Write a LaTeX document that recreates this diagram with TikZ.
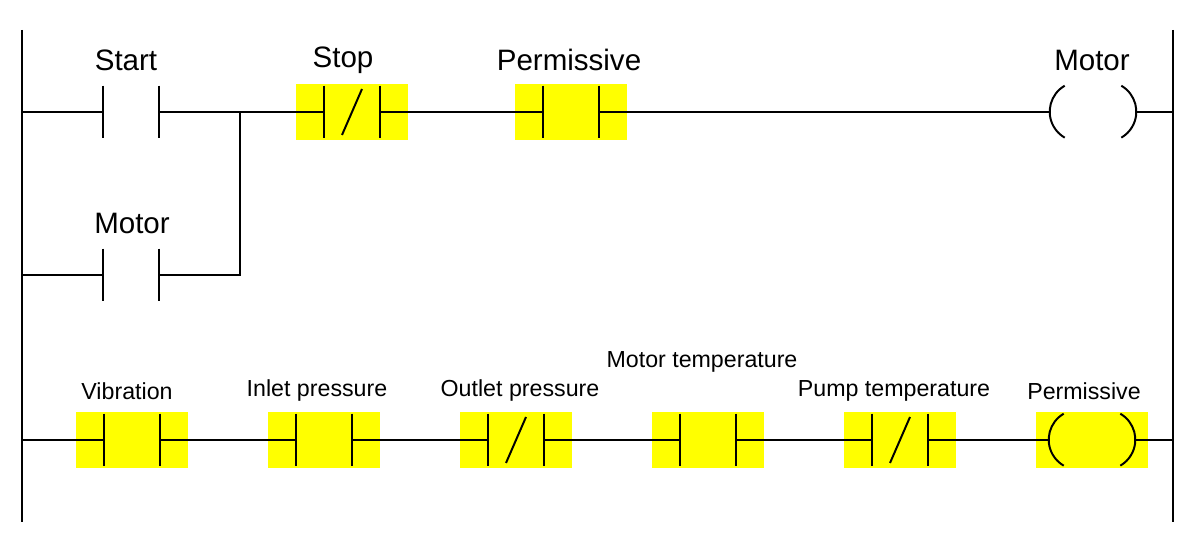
\documentclass[tikz,border=0pt]{standalone}
\usepackage{fontspec}
\setmainfont{Liberation Sans}
\usetikzlibrary{calc}
\definecolor{hlcolor}{RGB}{255,255,0}

% contact: name, position, nc/no, highlight (yes/no)
\newcommand{\ldcontact}[4]{%
  \node[contactbox] (#1) at (#2) {};
  \ifx#4y\fill[hlcolor] ($(#1.center)+(-56,-28)$) rectangle ($(#1.center)+(56,28)$);\fi
  \draw[wire] (#1.north west) -- (#1.south west);
  \draw[wire] (#1.north east) -- (#1.south east);
  \ifx#3c\draw[wire] ($(#1.center)+(-10,23)$) -- ($(#1.center)+(10,-23)$);\fi
}
% coil: name, position, highlight
\newcommand{\ldcoil}[3]{%
  \node[contactbox, minimum width=2cm] (#1) at (#2) {};
  \ifx#3y\fill[hlcolor] ($(#1.center)+(-56,-28)$) rectangle ($(#1.center)+(56,28)$);\fi
  \draw[wire] ($(#1.north west)+(12,0)$) arc[start angle=240, end angle=120, radius=30];
  \draw[wire] ($(#1.north east)+(-12,0)$) arc[start angle=-60, end angle=60, radius=30];
}

\begin{document}
\begin{tikzpicture}[x=0.025cm, y=-0.025cm,
  contactbox/.style={rectangle, inner sep=0pt, minimum width=1.4cm, minimum height=1.3cm},
  wire/.style={line width=1.4pt, black},
  biglabel/.style={font=\fontsize{21}{25}\selectfont},
  smalllabel/.style={font=\fontsize{16.5}{20}\selectfont}
]
\useasboundingbox (0,0) rectangle (1197,543);

% ===== Rails =====
\coordinate (lt) at (22,30);
\coordinate (lb) at (22,522);
\coordinate (rt) at (1173,30);
\coordinate (rb) at (1173,522);
\draw[wire] (lt) -- (lb);
\draw[wire] (rt) -- (rb);

% ===== Rung 1 =====
\ldcontact{start}{131,112}{o}{n}
\ldcontact{stop}{352,112}{c}{y}
\ldcontact{perm}{571,112}{o}{y}
\ldcoil{motor}{1093,112}{n}
\ldcontact{seal}{131,275}{o}{n}

\node[biglabel] (startlbl) at (126,60) {Start};
\node[biglabel] (stoplbl) at (343,60) {Stop};
\node[biglabel] (permlbl) at (569,60) {Permissive};
\node[biglabel] (motorlbl) at (1092,60) {Motor};
\node[biglabel] (seallbl) at (132,223) {Motor};

\coordinate (j1) at (240,112);
\coordinate (j2) at (240,275);
\draw[wire] (22,112) -- (start.west);
\draw[wire] (start.east) -- (j1) -- (stop.west);
\draw[wire] (stop.east) -- (perm.west);
\draw[wire] (perm.east) -- ($(motor.west)+(-3,0)$);
\draw[wire] ($(motor.east)+(3,0)$) -- (1173,112);
\draw[wire] (22,275) -- (seal.west);
\draw[wire] (seal.east) -- (j2) -- (j1);

% ===== Rung 2 =====
\ldcontact{vib}{132,440}{o}{y}
\ldcontact{inlet}{324,440}{o}{y}
\ldcontact{outlet}{516,440}{c}{y}
\ldcontact{mtemp}{708,440}{o}{y}
\ldcontact{ptemp}{900,440}{c}{y}
\ldcoil{permcoil}{1092,440}{y}

\node[smalllabel] (viblbl) at (127,391) {Vibration};
\node[smalllabel] (inletlbl) at (317,391) {Inlet pressure};
\node[smalllabel] (outletlbl) at (520,391) {Outlet pressure};
\node[smalllabel] (mtemplbl) at (702,362) {Motor temperature};
\node[smalllabel] (ptemplbl) at (894,391) {Pump temperature};
\node[smalllabel] (permcoillbl) at (1084,391) {Permissive};

\draw[wire] (22,440) -- (vib.west);
\draw[wire] (vib.east) -- (inlet.west);
\draw[wire] (inlet.east) -- (outlet.west);
\draw[wire] (outlet.east) -- (mtemp.west);
\draw[wire] (mtemp.east) -- (ptemp.west);
\draw[wire] (ptemp.east) -- ($(permcoil.west)+(-3,0)$);
\draw[wire] ($(permcoil.east)+(3,0)$) -- (1173,440);
\end{tikzpicture}
\end{document}
